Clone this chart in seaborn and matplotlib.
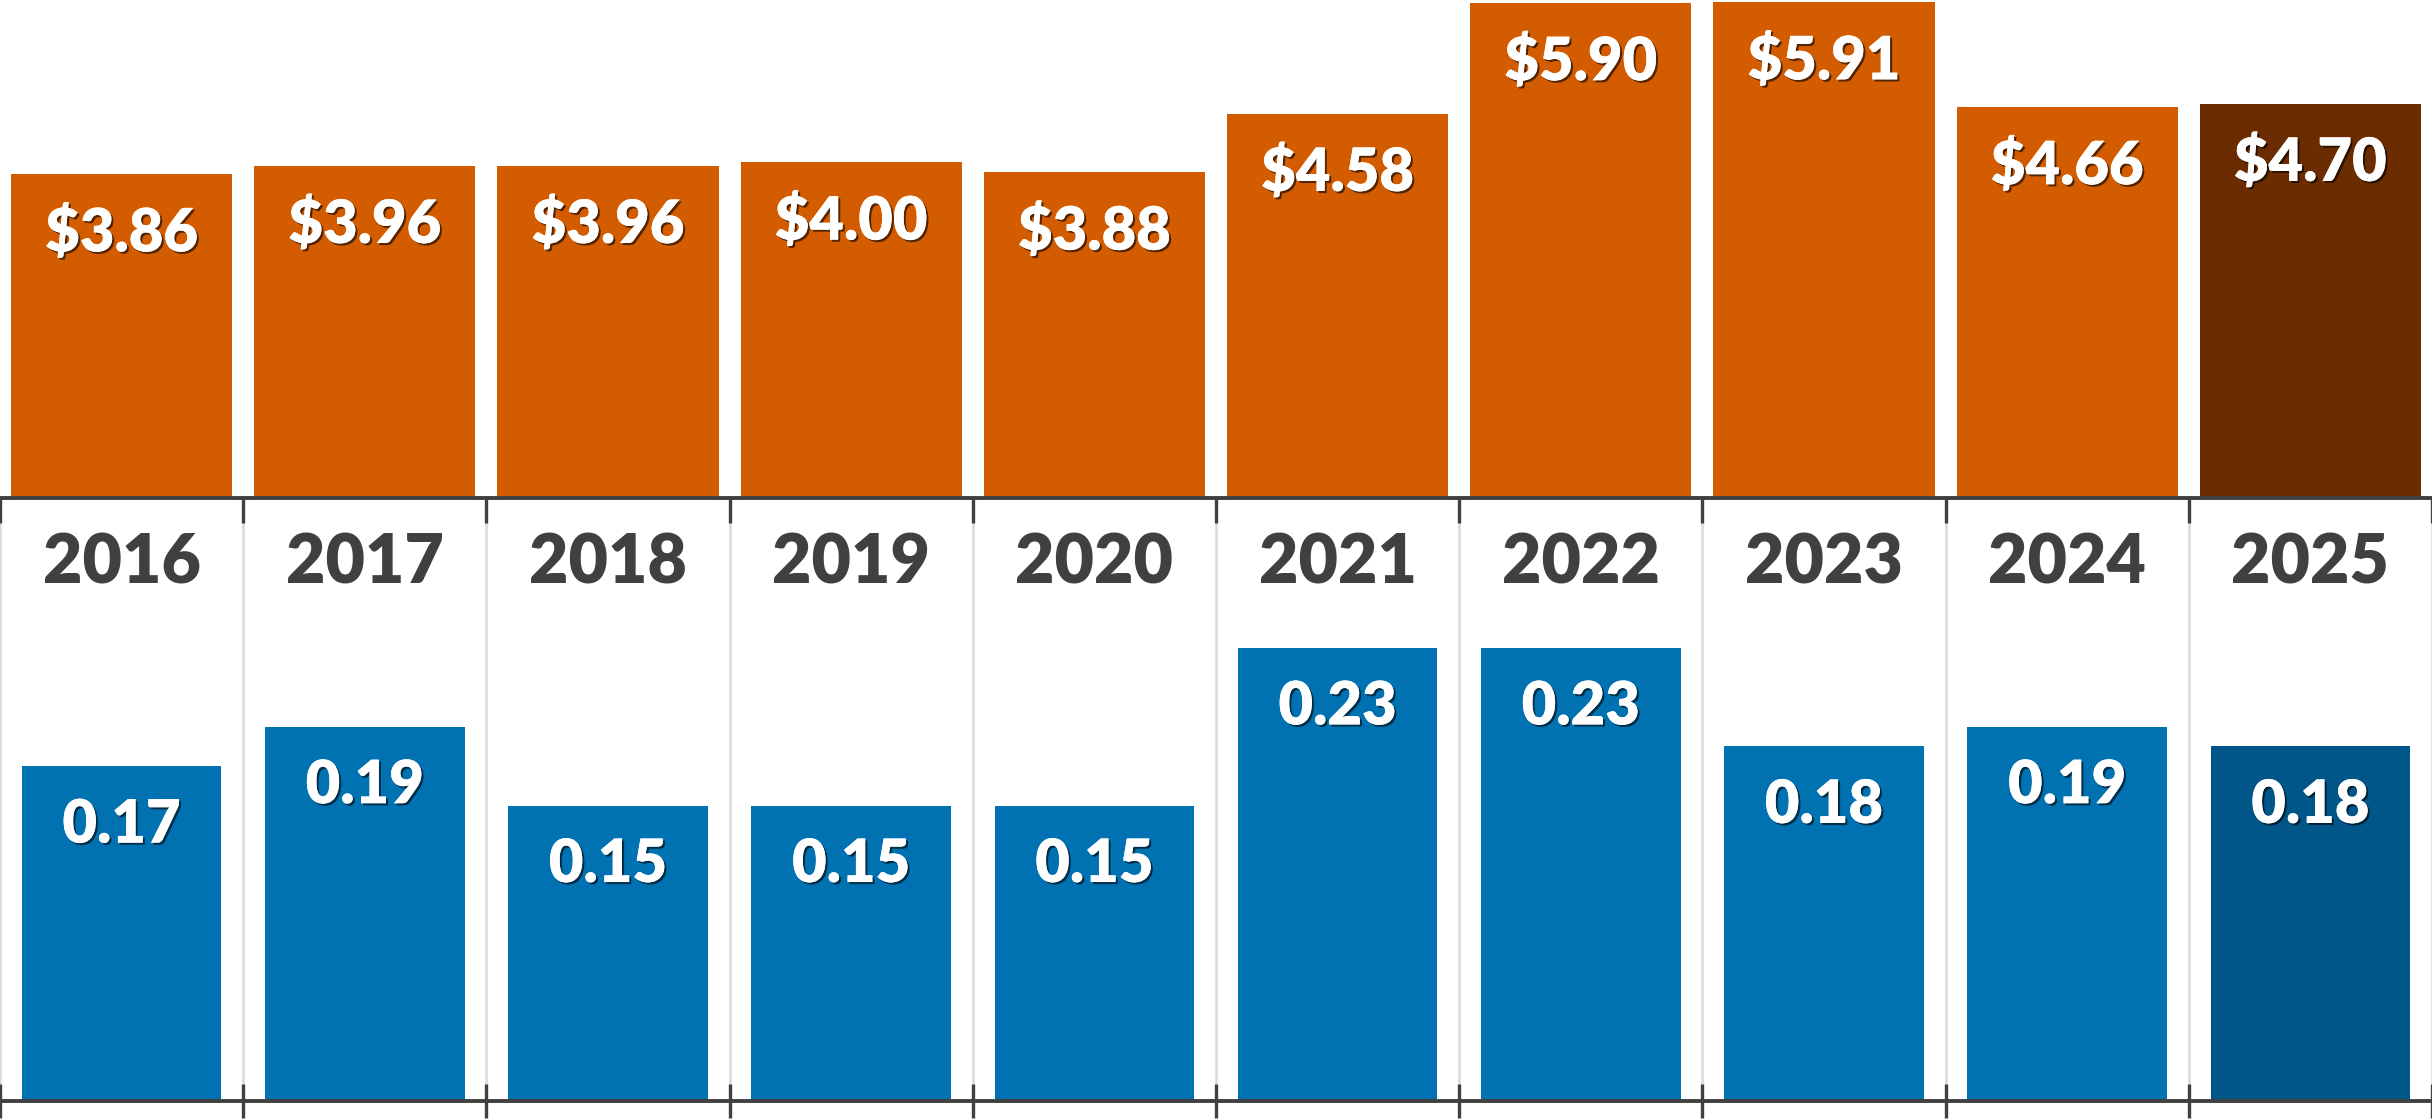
import matplotlib
matplotlib.use("Agg")
import matplotlib.pyplot as plt
import matplotlib.patheffects as pe
import numpy as np
import pandas as pd
import seaborn as sns

years = ["2016", "2017", "2018", "2019", "2020", "2021", "2022", "2023", "2024", "2025"]
price = [3.86, 3.96, 3.96, 4.00, 3.88, 4.58, 5.90, 5.91, 4.66, 4.70]
ratio = [0.17, 0.19, 0.15, 0.15, 0.15, 0.23, 0.23, 0.18, 0.19, 0.18]
price_labels = ["$3.86", "$3.96", "$3.96", "$4.00", "$3.88", "$4.58", "$5.90", "$5.91", "$4.66", "$4.70"]
ratio_labels = ["0.17", "0.19", "0.15", "0.15", "0.15", "0.23", "0.23", "0.18", "0.19", "0.18"]

orange, brown = "#D35C00", "#6A2C00"
blue, navy = "#0071B1", "#005688"
axis_col = "#404040"

sns.set_theme(style="white")
plt.rcParams["font.family"] = ["Lato", "DejaVu Sans"]

df = pd.DataFrame({"year": years, "price": price, "ratio": ratio})

W, H = 2432, 1120
fig = plt.figure(figsize=(W / 100, H / 100), dpi=100)
top_base = 498
bot_base = 1101
ax1 = fig.add_axes([0, (H - top_base) / H, 1, top_base / H])
ax2 = fig.add_axes([0, (H - bot_base) / H, 1, (bot_base - top_base) / H])

pal_top = [orange] * 9 + [brown]
pal_bot = [blue] * 9 + [navy]
sns.barplot(data=df, x="year", y="price", hue="year", palette=pal_top, legend=False,
            width=0.91, linewidth=0, saturation=1, ax=ax1)
sns.barplot(data=df, x="year", y="ratio", hue="year", palette=pal_bot, legend=False,
            width=0.82, linewidth=0, saturation=1, ax=ax2)

ax1.set_ylim(0, 5.935)
ax2.set_ylim(0, (bot_base - top_base) / 1970)

shadow = [pe.withSimplePatchShadow(offset=(1.5, -1.5), shadow_rgbFace="black", alpha=0.6), pe.Normal()]

for ax, vals, labs in [(ax1, price, price_labels), (ax2, ratio, ratio_labels)]:
    ax.set_xlim(-0.5, 9.5)
    ax.set_xlabel("")
    ax.set_ylabel("")
    ax.set_yticks([])
    for s in ["top", "left", "right"]:
        ax.spines[s].set_visible(False)
    ax.spines["bottom"].set_color(axis_col)
    ax.spines["bottom"].set_linewidth(2.8)
    ax.set_xticks(np.arange(-0.5, 10, 1), minor=True)
    for i, (v, t) in enumerate(zip(vals, labs)):
        ax.annotate(t, (i, v), xytext=(0, -42.5), textcoords="offset points",
                    ha="center", va="center", color="white", fontsize=43,
                    fontweight="heavy", path_effects=shadow)

# top panel: year labels under the axis, boundary ticks pointing down
ax1.set_xticks(range(10))
ax1.set_xticklabels(years, fontsize=49, fontweight="heavy", color=axis_col)
ax1.tick_params(axis="x", which="major", bottom=True, length=0, pad=25)
ax1.tick_params(axis="x", which="minor", bottom=True, direction="out", length=18, width=2.4, color=axis_col)

# bottom panel: light separators and crossing ticks
ax2.set_xticks([])
ax2.set_xticks(np.arange(-0.5, 10, 1), minor=True)
ax2.tick_params(axis="x", which="minor", bottom=True, direction="inout", length=24, width=2.4, color=axis_col)
for b in np.arange(-0.5, 10, 1):
    ax2.axvline(b, color="#d9d9d9", lw=1.8, zorder=0, clip_on=False)
ax2.patch.set_alpha(0)
ax1.set_zorder(2)

fig.savefig("out.png", dpi=100)
